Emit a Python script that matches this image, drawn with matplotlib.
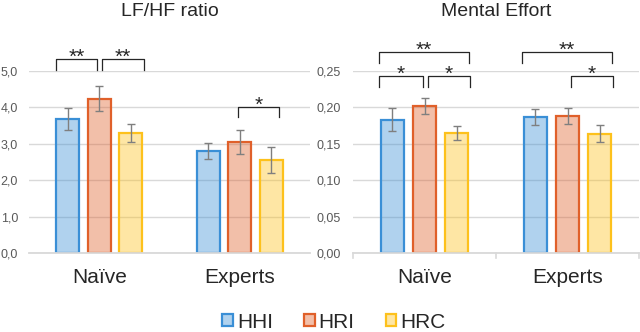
import matplotlib
matplotlib.use("Agg")
import matplotlib.pyplot as plt
from matplotlib.patches import Patch
import numpy as np

plt.rcParams['font.family'] = ['Liberation Sans', 'DejaVu Sans']

groups = ["Naïve", "Experts"]
conditions = ["HHI", "HRI", "HRC"]

lfhf_vals = {"HHI": [3.68, 2.80], "HRI": [4.24, 3.06], "HRC": [3.30, 2.55]}
lfhf_err = {"HHI": [0.30, 0.23], "HRI": [0.35, 0.33], "HRC": [0.25, 0.36]}

me_vals = {"HHI": [0.183, 0.187], "HRI": [0.202, 0.188], "HRC": [0.165, 0.164]}
me_err = {"HHI": [0.016, 0.011], "HRI": [0.011, 0.0105], "HRC": [0.0095, 0.0115]}

lfhf_ticks = [0, 1, 2, 3, 4, 5]
lfhf_ticklabels = ["0,0", "1,0", "2,0", "3,0", "4,0", "5,0"]
me_ticks = [0, 0.05, 0.10, 0.15, 0.20, 0.25]
me_ticklabels = ["0,00", "0,05", "0,10", "0,15", "0,20", "0,25"]

# significance brackets: (x_left, x_right, y_bottom, y_top, label)
lfhf_sig = [(-0.308, -0.016, 5.03, 5.33, "**"),
            (0.020, 0.318, 5.03, 5.33, "**"),
            (0.988, 1.279, 3.74, 4.01, "*")]
me_sig = [(-0.318, 0.314, 0.261, 0.276, "**"),
          (-0.318, -0.011, 0.228, 0.243, "*"),
          (0.025, 0.318, 0.228, 0.243, "*"),
          (0.682, 1.311, 0.261, 0.276, "**"),
          (1.025, 1.318, 0.228, 0.243, "*")]

colors = {"HHI": "#3a8fd6", "HRI": "#e0602a", "HRC": "#fdc11c"}
fill_alpha = 0.4
text_color = "#262626"
grid_color = "#d9d9d9"

W, H = 640, 332
fig = plt.figure(figsize=(6.4, 3.32), dpi=100)

def px_axes(x0, x1, y0, y1):
    return fig.add_axes([x0 / W, (H - y1) / H, (x1 - x0) / W, (y1 - y0) / H])

ax1 = px_axes(29, 310, 71, 253)
ax2 = px_axes(353, 639, 71, 253)

def draw(ax, vals, errs, ticks, ticklabels, ymax, sig, title, bottom_ticks, pad_px):
    x = np.arange(len(groups))
    spacing = 0.224
    width = 0.165
    for i, c in enumerate(conditions):
        xs = x + (i - 1) * spacing
        ax.bar(xs, vals[c], width=width,
               facecolor=matplotlib.colors.to_rgba(colors[c], fill_alpha),
               edgecolor=colors[c], linewidth=1.6, zorder=2)
        ax.errorbar(xs, vals[c], yerr=errs[c], fmt='none', ecolor="#7f7f7f",
                    elinewidth=1.0, capsize=3, capthick=1.0, zorder=3)
    ax.set_xlim(-0.5, 1.5)
    ax.set_ylim(0, ymax)
    ax.set_yticks(ticks)
    ax.set_yticklabels(ticklabels)
    ax.tick_params(axis='y', length=0, pad=pad_px * 0.72, labelsize=9, labelcolor="#595959")
    ax.yaxis.grid(True, color=grid_color, linewidth=1.0, zorder=0)
    ax.set_axisbelow(True)
    for s in ["top", "right", "left"]:
        ax.spines[s].set_visible(False)
    ax.spines["bottom"].set_color(grid_color)
    ax.spines["bottom"].set_linewidth(1.3)
    ax.set_xticks(x)
    ax.set_xticklabels(groups)
    ax.tick_params(axis='x', length=0, pad=11, labelsize=15, labelcolor=text_color)
    if bottom_ticks:
        for bx in [-0.5, 0.5, 1.5]:
            ax.plot([bx, bx], [0, -ymax * 0.028], color=grid_color, lw=1.2,
                    clip_on=False, zorder=1)
    for (xl, xr, yb, yt, lab) in sig:
        ax.plot([xl, xl, xr, xr], [yb, yt, yt, yb], color=text_color, lw=0.9,
                clip_on=False, zorder=4)
        ax.text((xl + xr) / 2, yt - ymax * 0.045, lab, ha='center', va='bottom',
                fontsize=15, color=text_color, clip_on=False)
    pos = ax.get_position()
    fig.text(pos.x0 + pos.width / 2, 1 - 11 / H, title, ha='center', va='center',
             fontsize=14, color=text_color)

draw(ax1, lfhf_vals, lfhf_err, lfhf_ticks, lfhf_ticklabels, 5.0, lfhf_sig,
     "LF/HF ratio", False, 11)
draw(ax2, me_vals, me_err, me_ticks, me_ticklabels, 0.25, me_sig,
     "Mental Effort", True, 12)

handles = [Patch(facecolor=matplotlib.colors.to_rgba(colors[c], fill_alpha),
                 edgecolor=colors[c], linewidth=1.6, label=c) for c in conditions]
leg = fig.legend(handles=handles, loc='center', bbox_to_anchor=(334 / W, 10 / H),
                 ncol=3, frameon=False, fontsize=15, handlelength=0.5,
                 handleheight=0.5, handletextpad=0.2, columnspacing=1.5,
                 borderaxespad=0, borderpad=0)
for t in leg.get_texts():
    t.set_color(text_color)

fig.savefig("out.png", dpi=100)
